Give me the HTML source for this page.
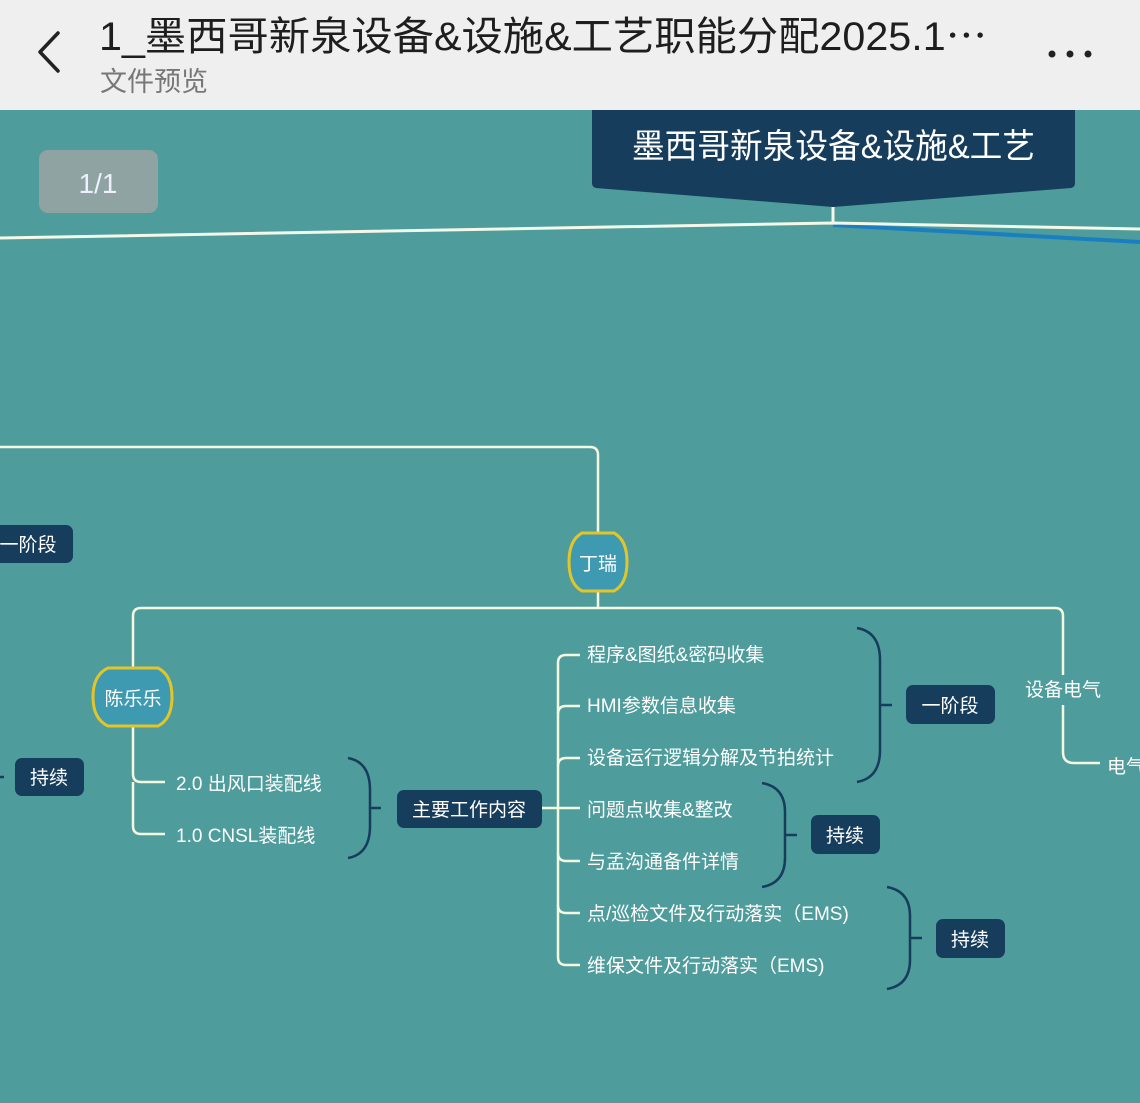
<!DOCTYPE html>
<html><head><meta charset="utf-8"><style>
html,body{margin:0;padding:0;width:1140px;height:1103px;overflow:hidden;background:#4e9c9c}
svg{display:block}
text{font-family:"Liberation Sans","Noto Sans CJK SC",sans-serif}
</style></head><body>
<svg width="1140" height="1103" viewBox="0 0 1140 1103">
<rect x="0" y="0" width="1140" height="1103" fill="#4e9c9c"/>
<rect x="0" y="0" width="1140" height="110" fill="#efefef"/>
<path d="M58 33 L40 52 L58 71" fill="none" stroke="#222" stroke-width="3.5" stroke-linecap="round" stroke-linejoin="round"/>
<text x="99" y="50" font-size="40" fill="#1e1e1e" textLength="888" lengthAdjust="spacingAndGlyphs">1_墨西哥新泉设备&amp;设施&amp;工艺职能分配2025.1⋯</text>
<text x="100" y="91" font-size="27" fill="#777">文件预览</text>
<circle cx="1052" cy="54" r="3.5" fill="#222"/><circle cx="1070" cy="54" r="3.5" fill="#222"/><circle cx="1088" cy="54" r="3.5" fill="#222"/>
<rect x="39" y="150" width="119" height="63" rx="9" fill="#8fa3a2"/>
<text x="98" y="193" font-size="28" fill="#eef" text-anchor="middle">1/1</text>
<path d="M592 110 H1075 V183 Q1075 187 1071 188 L833 207 L596 188 Q592 187 592 183 Z" fill="#173d5c"/>
<text x="632" y="158" font-size="34" fill="#fff" textLength="403" lengthAdjust="spacingAndGlyphs">墨西哥新泉设备&amp;设施&amp;工艺</text>
<line x1="833" y1="207" x2="833" y2="223" stroke="#f4f8e8" stroke-width="3"/>
<path d="M833 225 L1140 242" stroke="#1a7fc0" stroke-width="4" fill="none"/>
<path d="M0 238 L833 223 L1140 229" stroke="#f4f8e8" stroke-width="3" fill="none"/>
<g fill="none" stroke="#f4f8e0" stroke-width="2.5">
<path d="M0 447 H590 Q598 447 598 455 V532"/>
<path d="M598 592 V608"/>
<path d="M133 667 V616 Q133 608 141 608 H1055 Q1063 608 1063 616 V675"/>
<path d="M1063 705 V752 Q1063 763 1074 763 H1100"/>
<path d="M133 727 V774 Q133 782 141 782 H165"/>
<path d="M133 782 V826 Q133 834 141 834 H165"/>
<path d="M542 808 H580"/>
<path d="M558 808 V663 Q558 655 566 655 H580"/>
<path d="M558 714 Q558 706 566 706 H580"/>
<path d="M558 766 Q558 758 566 758 H580"/>
<path d="M558 808 V957 Q558 965 566 965 H580"/>
<path d="M558 853 Q558 861 566 861 H580"/>
<path d="M558 905 Q558 913 566 913 H580"/>
</g>
<g fill="none" stroke="#173d5c" stroke-width="2.5">
<path d="M348 758 Q370 762 370 790 V826 Q370 854 348 858 M370 808 H381"/>
<path d="M857 628 Q880 632 880 660 V750 Q880 778 857 782 M880 705 H892"/>
<path d="M762 783 Q785 787 785 812 V858 Q785 883 762 887 M785 835 H797"/>
<path d="M887 887 Q910 891 910 916 V960 Q910 985 887 989 M910 938 H922"/>
</g>
<path d="M582 533 H614 Q627 540 627 562 Q627 584 614 591 H582 Q569 584 569 562 Q569 540 582 533 Z" fill="#3e9ab0" stroke="#e3c52a" stroke-width="3"/>
<text x="598" y="570" font-size="19" fill="#fff" text-anchor="middle">丁瑞</text>
<path d="M108 668 H158 Q172 675 172 697 Q172 719 158 726 H108 Q93 719 93 697 Q93 675 108 668 Z" fill="#3e9ab0" stroke="#e3c52a" stroke-width="3"/>
<text x="133" y="705" font-size="19" fill="#fff" text-anchor="middle">陈乐乐</text>
<g fill="#173d5c">
<rect x="-20" y="525" width="93" height="38" rx="7"/>
<rect x="15" y="758" width="69" height="38" rx="7"/>
<rect x="397" y="790" width="145" height="38" rx="7"/>
<rect x="906" y="685" width="89" height="39" rx="7"/>
<rect x="811" y="815" width="69" height="39" rx="7"/>
<rect x="936" y="919" width="69" height="39" rx="7"/>
</g>
<g font-size="19" fill="#fff" text-anchor="middle">
<text x="28" y="551">一阶段</text>
<text x="49" y="784">持续</text>
<text x="469" y="816">主要工作内容</text>
<text x="950" y="712">一阶段</text>
<text x="845" y="842">持续</text>
<text x="970" y="946">持续</text>
</g>
<line x1="0" y1="777" x2="4" y2="777" stroke="#173d5c" stroke-width="2.5"/>
<g font-size="19" fill="#fff">
<text x="176" y="790">2.0 出风口装配线</text>
<text x="176" y="842">1.0 CNSL装配线</text>
<text x="587" y="661">程序&amp;图纸&amp;密码收集</text>
<text x="587" y="712">HMI参数信息收集</text>
<text x="587" y="764">设备运行逻辑分解及节拍统计</text>
<text x="587" y="816">问题点收集&amp;整改</text>
<text x="587" y="868">与孟沟通备件详情</text>
<text x="587" y="920">点/巡检文件及行动落实（EMS)</text>
<text x="587" y="972">维保文件及行动落实（EMS)</text>
<text x="1025" y="696">设备电气</text>
<text x="1107" y="773">电气</text>
</g>
</svg>
</body></html>
